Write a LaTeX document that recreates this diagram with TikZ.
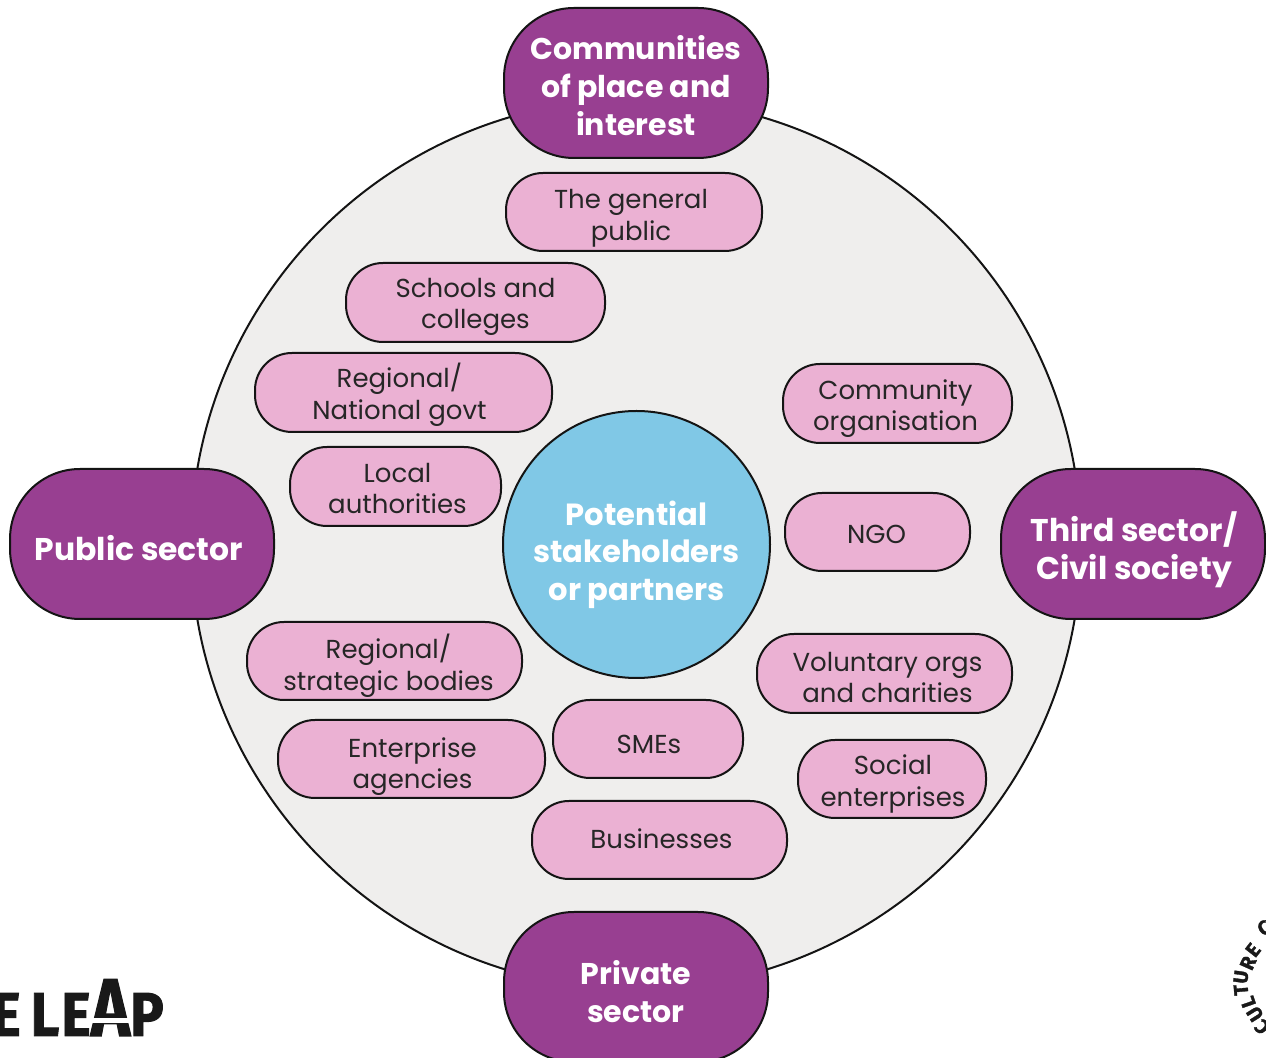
\documentclass[tikz,border=0pt]{standalone}
\usepackage{fontspec}
\setmainfont{Poppins}
\newfontfamily\logofont[FakeBold=1.5]{Fira Sans}
\usetikzlibrary{calc}
\definecolor{plum}{HTML}{983F91}
\definecolor{pinkfill}{HTML}{EBB1D3}
\definecolor{discfill}{HTML}{EFEEED}
\definecolor{skyfill}{HTML}{80C8E6}
\definecolor{inkline}{HTML}{141414}
\tikzset{
 x=0.5pt,y=-0.5pt,
 pillshape/.style 2 args={draw=inkline,line width=1pt,fill=pinkfill,inner sep=0pt,
   rounded corners=18.5pt,minimum width=#1*0.5pt,minimum height=#2*0.5pt},
 bigshape/.style 2 args={draw=inkline,line width=1pt,fill=plum,inner sep=0pt,
   rounded corners=35pt,minimum width=#1*0.5pt,minimum height=#2*0.5pt},
 pilltext/.style={inner sep=0pt,align=center,font=\fontsize{13}{15.8}\selectfont,text=black!85},
 bigtext/.style={inner sep=0pt,align=center,font=\fontsize{15}{19}\selectfont\bfseries,text=white},
 widertext/.style={font=\fontsize{15.7}{19}\selectfont\bfseries},
 logoletter/.style={inner sep=0pt,anchor=base,text=black!90,xscale=.9,
   font=\logofont\fontsize{31}{31}\selectfont\bfseries},
 sealletter/.style={inner sep=0pt,text=black!90,
   font=\logofont\fontsize{10}{10}\selectfont\bfseries},
}
% name, width, height, cx, cy, text dx, text dy, text
\newcommand\smallpill[8]{%
  \node[pillshape={#2}{#3}] (#1) at (#4,#5) {};
  \node[pilltext] (#1-text) at ($(#1.center)+(#6,#7)$) {#8};}
% name, width, height, cx, cy, text dx, text dy, text style, text
\newcommand\largepill[9]{%
  \node[bigshape={#2}{#3}] (#1) at (#4,#5) {};
  \node[bigtext,#8] (#1-text) at ($(#1.center)+(#6,#7)$) {#9};}
\begin{document}
\begin{tikzpicture}
\useasboundingbox (0,0) rectangle (1266,1058);
\clip (0,0) rectangle (1266,1058);
\fill[white] (0,0) rectangle (1266,1058);
\node[circle,draw=inkline,line width=1pt,fill=discfill,minimum size=445pt,inner sep=0pt] (disc) at (636,544) {};
% outer categories
\largepill{communities}{264}{150}{636}{83}{0}{3}{}{Communities\\of place and\\interest}
\largepill{public}{264}{150}{142}{544}{-3}{4}{widertext}{Public sector}
\largepill{third}{264}{150}{1133}{544}{1}{6}{widertext}{Third sector/\\Civil society}
\largepill{private}{264}{150}{636}{987}{0}{5}{}{Private\\sector}
% stakeholders
\smallpill{general}{256}{78}{634}{212}{-3}{6.5}{The general\\public}
\smallpill{schools}{259}{79}{475.5}{302.5}{0}{4.5}{Schools and\\colleges}
\smallpill{regional}{297}{79}{403.5}{392.5}{-4}{2.5}{Regional/\\National govt}
\smallpill{local}{211}{79}{395.5}{486.5}{2}{2}{Local\\authorities}
\smallpill{strategic}{275}{78}{384.5}{661}{4}{4.5}{Regional/\\strategic bodies}
\smallpill{enterprise}{267}{78}{411.5}{759}{1}{7.5}{Enterprise\\agencies}
\smallpill{smes}{190}{78}{648}{739}{1}{5}{SMEs}
\smallpill{business}{255}{78}{659.5}{840}{2}{-1.5}{Businesses}
\smallpill{community}{229}{79}{897.5}{403.5}{-2}{5}{Community\\organisation}
\smallpill{ngo}{185}{78}{877.5}{532}{-1}{2}{NGO}
\smallpill{voluntary}{255}{79}{884.5}{673.5}{3}{4}{Voluntary orgs\\and charities}
\smallpill{social}{188}{78}{892}{779}{1}{5}{Social\\enterprises}
% centre
\node[circle,draw=inkline,line width=1pt,fill=skyfill,minimum size=133.5pt,inner sep=0pt] (centre) at (636.5,544.5) {};
\node[bigtext,font=\fontsize{15.3}{18.8}\selectfont\bfseries] (centre-text) at ($(centre.center)+(0,10)$) {Potential\\stakeholders\\or partners};
% left logo
\node[logoletter] (logoe) at (6,1036) {E};
\node[logoletter] (logol) at (45,1036) {L};
\node[logoletter] (logof) at (76,1036) {E};
\node[logoletter] (logop) at (147,1036) {P};
\node[logoletter,font=\logofont\fontsize{41}{41}\selectfont\bfseries,xscale=.9] (logoa) at (110.5,1036) {A};
\fill[white] (88,1018) rectangle (132,1023);
% right seal
\foreach \ltr/\px/\py/\rot in {C/1262/1027/137,U/1255/1014/122,L/1248/1002/109,T/1241/990/95,U/1241/977/82,R/1248/963/66,E/1253/950/52,C/1264/928/31}
  \node[sealletter,rotate=\rot] at (\px,\py) {\ltr};
\end{tikzpicture}
\end{document}
